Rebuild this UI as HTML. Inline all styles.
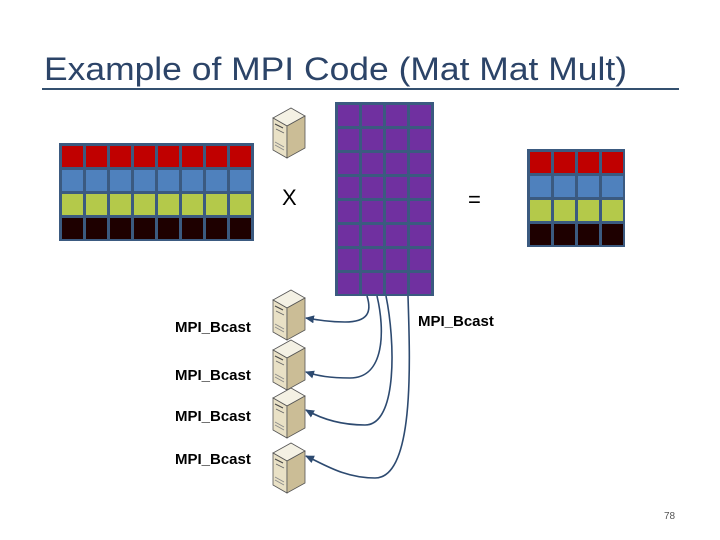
<!DOCTYPE html>
<html><head><meta charset="utf-8"><style>
html,body{margin:0;padding:0;background:#fff;}
svg{display:block;}
text{font-family:"Liberation Sans",sans-serif;}
</style></head><body>
<svg width="720" height="540" viewBox="0 0 720 540" xmlns="http://www.w3.org/2000/svg">
<defs>
<g id="srv">
 <path d="M2,10 L20,0 L34,8 L16,18 Z" fill="#f4f1e4" stroke="#555" stroke-width="0.8"/>
 <path d="M2,10 L16,18 L16,50 L2,42 Z" fill="#e9e1c6" stroke="#555" stroke-width="0.8"/>
 <path d="M16,18 L34,8 L34,40 L16,50 Z" fill="#cbbd96" stroke="#555" stroke-width="0.8"/>
 <line x1="4" y1="16" x2="12" y2="20" stroke="#444" stroke-width="1"/>
 <line x1="5" y1="21" x2="13" y2="25" stroke="#666" stroke-width="0.8"/>
 <line x1="4" y1="34" x2="13" y2="39" stroke="#888" stroke-width="0.8"/>
 <line x1="4" y1="37" x2="13" y2="42" stroke="#888" stroke-width="0.8"/>
</g>
<marker id="ah" markerWidth="9" markerHeight="8" refX="8" refY="4" orient="auto" markerUnits="userSpaceOnUse">
 <path d="M9,4 L0,0 L0,8 Z" fill="#2d4a70"/>
</marker>
</defs>

<text x="44" y="80" font-size="32" fill="#2c4468" textLength="583" lengthAdjust="spacingAndGlyphs">Example of MPI Code (Mat Mat Mult)</text>
<rect x="42" y="88" width="637" height="2" fill="#34506f"/>

<rect x="59" y="143" width="195" height="98" fill="#3b5a80"/>
<g fill="#c00000">
<rect x="62" y="146" width="21" height="21"/><rect x="86" y="146" width="21" height="21"/><rect x="110" y="146" width="21" height="21"/><rect x="134" y="146" width="21" height="21"/><rect x="158" y="146" width="21" height="21"/><rect x="182" y="146" width="21" height="21"/><rect x="206" y="146" width="21" height="21"/><rect x="230" y="146" width="21" height="21"/>
</g>
<g fill="#4f81bd">
<rect x="62" y="170" width="21" height="21"/><rect x="86" y="170" width="21" height="21"/><rect x="110" y="170" width="21" height="21"/><rect x="134" y="170" width="21" height="21"/><rect x="158" y="170" width="21" height="21"/><rect x="182" y="170" width="21" height="21"/><rect x="206" y="170" width="21" height="21"/><rect x="230" y="170" width="21" height="21"/>
</g>
<g fill="#b4c94a">
<rect x="62" y="194" width="21" height="21"/><rect x="86" y="194" width="21" height="21"/><rect x="110" y="194" width="21" height="21"/><rect x="134" y="194" width="21" height="21"/><rect x="158" y="194" width="21" height="21"/><rect x="182" y="194" width="21" height="21"/><rect x="206" y="194" width="21" height="21"/><rect x="230" y="194" width="21" height="21"/>
</g>
<g fill="#1e0000">
<rect x="62" y="218" width="21" height="21"/><rect x="86" y="218" width="21" height="21"/><rect x="110" y="218" width="21" height="21"/><rect x="134" y="218" width="21" height="21"/><rect x="158" y="218" width="21" height="21"/><rect x="182" y="218" width="21" height="21"/><rect x="206" y="218" width="21" height="21"/><rect x="230" y="218" width="21" height="21"/>
</g>

<rect x="335" y="102" width="99" height="194" fill="#3b5a80"/>
<g fill="#7030a0">
<rect x="338" y="105" width="21" height="21"/><rect x="362" y="105" width="21" height="21"/><rect x="386" y="105" width="21" height="21"/><rect x="410" y="105" width="21" height="21"/>
<rect x="338" y="129" width="21" height="21"/><rect x="362" y="129" width="21" height="21"/><rect x="386" y="129" width="21" height="21"/><rect x="410" y="129" width="21" height="21"/>
<rect x="338" y="153" width="21" height="21"/><rect x="362" y="153" width="21" height="21"/><rect x="386" y="153" width="21" height="21"/><rect x="410" y="153" width="21" height="21"/>
<rect x="338" y="177" width="21" height="21"/><rect x="362" y="177" width="21" height="21"/><rect x="386" y="177" width="21" height="21"/><rect x="410" y="177" width="21" height="21"/>
<rect x="338" y="201" width="21" height="21"/><rect x="362" y="201" width="21" height="21"/><rect x="386" y="201" width="21" height="21"/><rect x="410" y="201" width="21" height="21"/>
<rect x="338" y="225" width="21" height="21"/><rect x="362" y="225" width="21" height="21"/><rect x="386" y="225" width="21" height="21"/><rect x="410" y="225" width="21" height="21"/>
<rect x="338" y="249" width="21" height="21"/><rect x="362" y="249" width="21" height="21"/><rect x="386" y="249" width="21" height="21"/><rect x="410" y="249" width="21" height="21"/>
<rect x="338" y="273" width="21" height="21"/><rect x="362" y="273" width="21" height="21"/><rect x="386" y="273" width="21" height="21"/><rect x="410" y="273" width="21" height="21"/>
</g>

<rect x="527" y="149" width="98" height="98" fill="#3b5a80"/>
<g fill="#c00000"><rect x="530" y="152" width="21" height="21"/><rect x="554" y="152" width="21" height="21"/><rect x="578" y="152" width="21" height="21"/><rect x="602" y="152" width="21" height="21"/></g>
<g fill="#4f81bd"><rect x="530" y="176" width="21" height="21"/><rect x="554" y="176" width="21" height="21"/><rect x="578" y="176" width="21" height="21"/><rect x="602" y="176" width="21" height="21"/></g>
<g fill="#b4c94a"><rect x="530" y="200" width="21" height="21"/><rect x="554" y="200" width="21" height="21"/><rect x="578" y="200" width="21" height="21"/><rect x="602" y="200" width="21" height="21"/></g>
<g fill="#1e0000"><rect x="530" y="224" width="21" height="21"/><rect x="554" y="224" width="21" height="21"/><rect x="578" y="224" width="21" height="21"/><rect x="602" y="224" width="21" height="21"/></g>

<text x="282" y="205" font-size="22" fill="#000">X</text>
<text x="468" y="207" font-size="22" fill="#000">=</text>

<use href="#srv" x="271" y="108"/>
<use href="#srv" x="271" y="290"/>
<use href="#srv" x="271" y="340"/>
<use href="#srv" x="271" y="388"/>
<use href="#srv" x="271" y="443"/>

<g fill="none" stroke="#2d4a70" stroke-width="1.6">
<path d="M367,296 C372,312 368,322 345,322 C330,322 318,320 306,318" marker-end="url(#ah)"/>
<path d="M377,296 C385,330 385,378 350,378 C330,378 318,376 306,372" marker-end="url(#ah)"/>
<path d="M386,296 C395,340 398,425 365,425 C340,425 320,418 306,410" marker-end="url(#ah)"/>
<path d="M408,296 C410,360 415,478 375,478 C345,478 325,465 306,456" marker-end="url(#ah)"/>
</g>

<g font-size="15" font-weight="bold" fill="#000">
<text x="175" y="332">MPI_Bcast</text>
<text x="418" y="326">MPI_Bcast</text>
<text x="175" y="380">MPI_Bcast</text>
<text x="175" y="421">MPI_Bcast</text>
<text x="175" y="464">MPI_Bcast</text>
</g>

<text x="664" y="519" font-size="10" fill="#555">78</text>
</svg>
</body></html>
